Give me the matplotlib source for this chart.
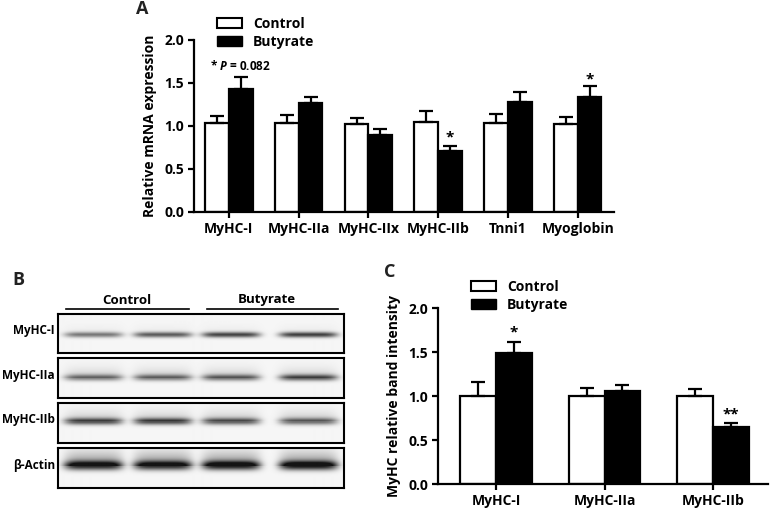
import numpy as np
import matplotlib
matplotlib.use("Agg")
import matplotlib.pyplot as plt
from matplotlib.patches import Patch

plt.rcParams['font.family'] = ['Open Sans', 'DejaVu Sans']
plt.rcParams['font.weight'] = 'bold'
plt.rcParams['mathtext.fontset'] = 'custom'
plt.rcParams['mathtext.it'] = 'Open Sans:italic:bold'
plt.rcParams['mathtext.rm'] = 'Open Sans:bold'

# panel A data
genes = ['MyHC-I', 'MyHC-IIa', 'MyHC-IIx', 'MyHC-IIb', 'Tnni1', 'Myoglobin']
ctrl_a = [1.03, 1.03, 1.02, 1.05, 1.04, 1.02]
ctrl_a_err = [0.09, 0.10, 0.07, 0.12, 0.10, 0.08]
but_a = [1.43, 1.27, 0.90, 0.71, 1.28, 1.34]
but_a_err = [0.14, 0.07, 0.07, 0.06, 0.12, 0.12]

# panel C data
proteins = ['MyHC-I', 'MyHC-IIa', 'MyHC-IIb']
ctrl_c = [1.0, 1.0, 1.0]
ctrl_c_err = [0.16, 0.09, 0.08]
but_c = [1.49, 1.06, 0.65]
but_c_err = [0.12, 0.07, 0.04]

# panel B blot: band darkness per lane (Control, Control, Butyrate, Butyrate)
blot_rows = ['MyHC-I', 'MyHC-IIa', 'MyHC-IIb', 'β-Actin']
band_dark = [
    [0.50, 0.62, 0.72, 0.74],
    [0.50, 0.52, 0.56, 0.66],
    [0.70, 0.72, 0.64, 0.58],
    [0.88, 0.86, 0.92, 0.95],
]
band_pos = [0.52, 0.48, 0.45, 0.43]
band_sigma = [2.8, 3.2, 3.4, 4.5]
haze = [0.04, 0.14, 0.16, 0.38]

fig = plt.figure(figsize=(7.7, 5.08), dpi=100)
W, H = 770, 508
FS = 10


def px_axes(x0, y0, x1, y1):
    return fig.add_axes([x0 / W, 1 - y1 / H, (x1 - x0) / W, (y1 - y0) / H])


def style_bar_axes(ax):
    for s in ['top', 'right']:
        ax.spines[s].set_visible(False)
    for s in ['left', 'bottom']:
        ax.spines[s].set_linewidth(1.6)
    ax.tick_params(width=1.6, length=4, labelsize=FS, direction='out', pad=3)
    ax.set_ylim(0, 2.0)
    ax.set_yticks([0, 0.5, 1.0, 1.5, 2.0])
    ax.set_yticklabels(['0.0', '0.5', '1.0', '1.5', '2.0'])
    for t in ax.get_xticklabels() + ax.get_yticklabels():
        t.set_fontweight('bold')


def grouped_bars(ax, ctrl, ctrl_err, but, but_err, w):
    x = np.arange(len(ctrl))
    ek = dict(ecolor='black', elinewidth=1.6, capsize=5, capthick=1.6)
    ax.bar(x - w / 2, ctrl, w, yerr=[np.zeros(len(x)), ctrl_err], color='white',
           edgecolor='black', linewidth=1.6, error_kw=ek, zorder=2)
    ax.bar(x + w / 2, but, w, yerr=[np.zeros(len(x)), but_err], color='black',
           edgecolor='black', linewidth=1.6, error_kw=ek, zorder=2)
    return x


def add_legend(x, y):
    handles = [Patch(facecolor='white', edgecolor='black', linewidth=1.5, label='Control'),
               Patch(facecolor='black', edgecolor='black', label='Butyrate')]
    fig.legend(handles=handles, loc='upper left', bbox_to_anchor=(x / W, 1 - y / H),
               frameon=False, handlelength=1.8, handleheight=0.75,
               labelspacing=0.3, handletextpad=0.8, borderpad=0,
               prop={'weight': 'bold', 'size': FS})


# ---- panel A
axA = px_axes(194, 40, 614, 212)
xa = grouped_bars(axA, ctrl_a, ctrl_a_err, but_a, but_a_err, 0.34)
axA.set_xlim(-0.5, 5.52)
axA.set_xticks(xa)
axA.set_xticklabels(genes)
style_bar_axes(axA)
axA.set_ylabel('Relative mRNA expression', fontsize=FS, fontweight='bold', labelpad=5)
axA.text(xa[0] - 0.27, 1.70, '* $P$ = 0.082', fontsize=8.5, fontweight='bold', va='center')
axA.text(xa[3] + 0.17, but_a[3] + but_a_err[3] + 0.05, '*', ha='center', fontsize=11, fontweight='bold')
axA.text(xa[5] + 0.17, but_a[5] + but_a_err[5] + 0.03, '*', ha='center', fontsize=11, fontweight='bold')
fig.text(136 / W, 1 - 9 / H, 'A', fontsize=13, fontweight='bold', va='center', color='#222')
add_legend(210, 10)

# ---- panel C
axC = px_axes(438, 308, 768, 484)
xc = grouped_bars(axC, ctrl_c, ctrl_c_err, but_c, but_c_err, 0.33)
axC.set_xlim(-0.535, 2.507)
axC.set_xticks(xc)
axC.set_xticklabels(proteins)
style_bar_axes(axC)
axC.set_ylabel('MyHC relative band intensity', fontsize=FS, fontweight='bold', labelpad=5)
axC.text(xc[0] + 0.165, but_c[0] + but_c_err[0] + 0.07, '*', ha='center', fontsize=11, fontweight='bold')
axC.text(xc[2] + 0.165, but_c[2] + but_c_err[2] + 0.06, '**', ha='center', fontsize=11, fontweight='bold')
fig.text(384 / W, 1 - 272 / H, 'C', fontsize=13, fontweight='bold', va='center', color='#222')
add_legend(464, 273)

# ---- panel B blot
fig.text(12 / W, 1 - 280 / H, 'B', fontsize=13, fontweight='bold', va='center', color='#222')
strip_y = [(314, 353), (358, 398), (403, 443), (448, 488)]
bx0, bx1 = 58, 344
lane_x = np.array([93, 162, 230, 307]) - bx0
lane_half = 29
for i, (y0, y1) in enumerate(strip_y):
    ax = px_axes(bx0, y0, bx1, y1)
    h, w = y1 - y0, bx1 - bx0
    yy, xx = np.mgrid[0:h, 0:w]
    dark = np.full((h, w), 0.04)
    yc = band_pos[i] * h
    for j, cx in enumerate(lane_x):
        horiz = np.exp(-((xx - cx) / lane_half) ** 6)
        dark += band_dark[i][j] * horiz * np.exp(-((yy - yc) / band_sigma[i]) ** 2)
        above = yy < yc
        dark += haze[i] * horiz * above * np.exp(-((yy - yc) / (3 * band_sigma[i])) ** 2)
    img = 1 - np.clip(dark, 0, 1) * 0.92
    ax.imshow(img, cmap='gray', vmin=0, vmax=1, aspect='auto', interpolation='bilinear')
    ax.set_xticks([])
    ax.set_yticks([])
    for s in ax.spines.values():
        s.set_linewidth(1.5)
    fig.text(55 / W, 1 - ((y0 + y1) / 2 - 3) / H, blot_rows[i], fontsize=8.5, fontweight='bold',
             ha='right', va='center')

fig.text(127 / W, 1 - 300 / H, 'Control', fontsize=9.5, fontweight='bold', ha='center', va='center')
fig.text(267 / W, 1 - 300 / H, 'Butyrate', fontsize=9.5, fontweight='bold', ha='center', va='center')
fig.add_artist(plt.Line2D([66 / W, 189 / W], [1 - 309 / H, 1 - 309 / H], color='black', lw=1.2))
fig.add_artist(plt.Line2D([207 / W, 338 / W], [1 - 309 / H, 1 - 309 / H], color='black', lw=1.2))

fig.savefig('out.png', dpi=100)
